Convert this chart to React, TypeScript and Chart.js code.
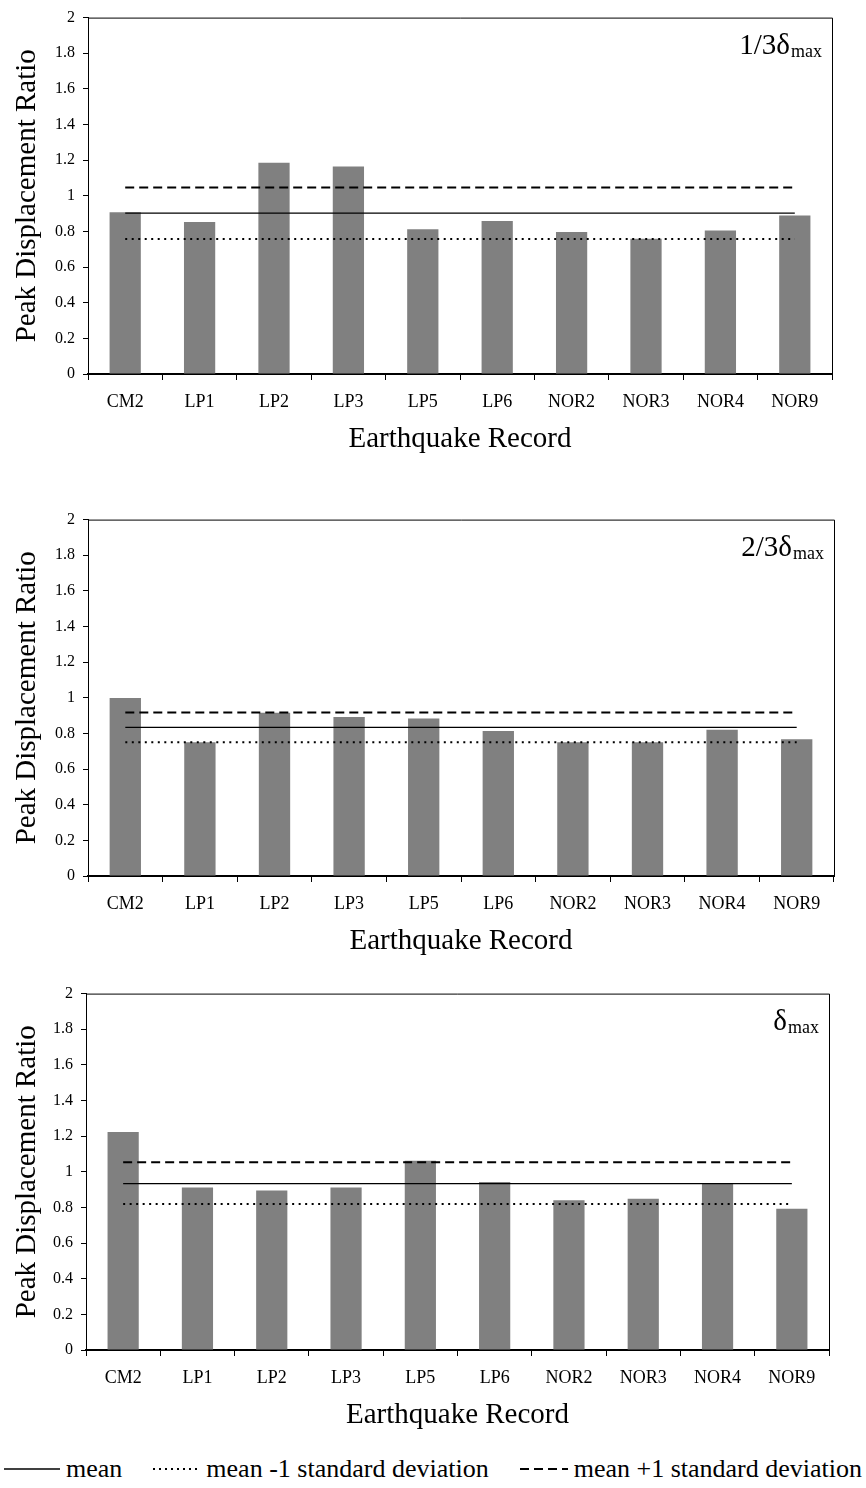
import React, { useEffect, useRef } from 'react';
import { Chart, registerables } from 'chart.js';

Chart.register(...registerables);

// Earthquake records on the horizontal axis
const records = ['CM2', 'LP1', 'LP2', 'LP3', 'LP5', 'LP6', 'NOR2', 'NOR3', 'NOR4', 'NOR9'];

// Peak displacement ratios per record, one array per displacement level
const ratioThird = [0.907, 0.853, 1.186, 1.164, 0.812, 0.858, 0.797, 0.759, 0.805, 0.89];
const ratioTwoThirds = [0.999, 0.751, 0.916, 0.892, 0.884, 0.814, 0.751, 0.751, 0.821, 0.768];
const ratioMax = [1.224, 0.912, 0.895, 0.912, 1.062, 0.943, 0.841, 0.849, 0.934, 0.793];

// Mean and mean ± 1 standard deviation levels per panel
const meanLevels = [0.903, 0.834, 0.934];
const upperLevels = [1.047, 0.918, 1.053];
const lowerLevels = [0.757, 0.751, 0.819];

const yTickLabels = ['0', '0.2', '0.4', '0.6', '0.8', '1', '1.2', '1.4', '1.6', '1.8', '2'];

const panelMain = ['1/3\u03b4', '2/3\u03b4', '\u03b4'];
const panelSub = ['max', 'max', 'max'];

const seriesList = [ratioThird, ratioTwoThirds, ratioMax];

const SERIF = '"Liberation Serif", "Times New Roman", serif';
const PANEL_W = 866;
const PANEL_H = 457;
const X_AXIS_H = 83;

// Top and right edges of the plot box
const framePlugin = {
  id: 'frame',
  afterDraw(chart: any) {
    const { ctx, chartArea } = chart;
    ctx.save();
    ctx.strokeStyle = '#000';
    ctx.lineWidth = 1;
    ctx.beginPath();
    ctx.moveTo(chartArea.left, chartArea.top + 0.5);
    ctx.lineTo(chartArea.right + 0.5, chartArea.top + 0.5);
    ctx.lineTo(chartArea.right + 0.5, chartArea.bottom);
    ctx.stroke();
    ctx.restore();
  },
};

// Panel caption in the upper-right corner, with a subscript
const captionPlugin = {
  id: 'caption',
  afterDraw(chart: any, _args: any, opts: any) {
    if (!opts || !opts.main) return;
    const { ctx, chartArea } = chart;
    ctx.save();
    ctx.fillStyle = '#000';
    ctx.textBaseline = 'alphabetic';
    ctx.textAlign = 'left';
    const mainFont = `29px ${SERIF}`;
    const subFont = `18px ${SERIF}`;
    ctx.font = mainFont;
    const wMain = ctx.measureText(opts.main).width;
    ctx.font = subFont;
    const wSub = ctx.measureText(opts.sub).width;
    const x0 = chartArea.right - 11 - wMain - wSub;
    const base = chartArea.top + 36;
    ctx.font = mainFont;
    ctx.fillText(opts.main, x0, base);
    ctx.font = subFont;
    ctx.fillText(opts.sub, x0 + wMain + 1, base + 3);
    ctx.restore();
  },
};

function levelLine(value: number, dash: number[], width: number) {
  return {
    type: 'line' as const,
    data: [
      { x: records[0], y: value },
      { x: records[records.length - 1], y: value },
    ],
    borderColor: '#000',
    borderWidth: width,
    borderDash: dash,
    pointRadius: 0,
    fill: false,
    order: 1,
  };
}

function Panel({ idx, top, left, right }: { idx: number; top: number; left: number; right: number }) {
  const ref = useRef<HTMLCanvasElement>(null);

  useEffect(() => {
    const canvas = ref.current;
    if (!canvas) return;
    const chart = new Chart(canvas, {
      type: 'bar',
      data: {
        labels: records,
        datasets: [
          {
            type: 'bar',
            data: seriesList[idx],
            backgroundColor: '#808080',
            borderWidth: 0,
            barPercentage: 0.42,
            categoryPercentage: 1,
            order: 2,
          } as any,
          levelLine(meanLevels[idx], [], 1.3),
          levelLine(upperLevels[idx], [9, 5], 2),
          levelLine(lowerLevels[idx], [2, 4.5], 2),
        ],
      },
      options: {
        responsive: false,
        animation: false,
        devicePixelRatio: 1,
        layout: { padding: { top: 14, right: PANEL_W - right, bottom: 0, left: 0 } },
        plugins: {
          legend: { display: false },
          tooltip: { enabled: false },
          caption: { main: panelMain[idx], sub: panelSub[idx] },
        } as any,
        scales: {
          x: {
            type: 'category',
            offset: true,
            grid: {
              display: true,
              offset: true,
              drawOnChartArea: false,
              drawTicks: true,
              tickLength: 6,
              color: '#000',
              lineWidth: 1,
            },
            border: { display: true, color: '#000', width: 2 },
            ticks: {
              color: '#000',
              font: { family: SERIF, size: 18 },
              padding: 11,
              maxRotation: 0,
              autoSkip: false,
            },
            title: {
              display: true,
              text: 'Earthquake Record',
              color: '#000',
              font: { family: SERIF, size: 29 },
              padding: { top: 0, bottom: 0 },
            },
            afterFit: (s: any) => {
              s.height = X_AXIS_H;
            },
          },
          y: {
            min: 0,
            max: 2,
            ticks: {
              stepSize: 0.2,
              color: '#000',
              font: { family: SERIF, size: 16 },
              padding: 8,
              callback: (_v: any, i: number) => yTickLabels[i],
            },
            grid: {
              display: true,
              drawOnChartArea: false,
              drawTicks: true,
              tickLength: 5,
              color: '#000',
            },
            border: { display: true, color: '#000', width: 1 },
            title: {
              display: true,
              text: 'Peak Displacement Ratio',
              color: '#000',
              font: { family: SERIF, size: 29 },
              padding: { top: 10, bottom: 0 },
            },
            afterFit: (s: any) => {
              s.width = left;
            },
          },
        },
      },
      plugins: [framePlugin, captionPlugin],
    } as any);
    return () => chart.destroy();
  }, [idx, left, right]);

  return (
    <canvas
      ref={ref}
      width={PANEL_W}
      height={PANEL_H}
      style={{ position: 'absolute', left: 0, top, width: PANEL_W, height: PANEL_H }}
    />
  );
}

function Sample({ dash, width }: { dash: string; width: number }) {
  return (
    <svg width={width} height={10} style={{ display: 'block', marginRight: 6 }}>
      <line
        x1={0}
        y1={5}
        x2={width}
        y2={5}
        stroke="#000"
        strokeWidth={dash === 'none' ? 1.3 : 2}
        strokeDasharray={dash === 'none' ? undefined : dash}
      />
    </svg>
  );
}

export default function App() {
  return (
    <div style={{ position: 'absolute', left: 0, top: 0, width: 866, height: 1488, background: '#fff', overflow: 'hidden' }}>
      <Panel idx={0} top={0} left={88} right={832} />
      <Panel idx={1} top={502} left={88} right={834} />
      <Panel idx={2} top={976} left={86} right={829} />
      <div
        style={{
          position: 'absolute',
          left: 4,
          top: 1452,
          width: 858,
          height: 34,
          display: 'flex',
          alignItems: 'center',
          justifyContent: 'space-between',
          fontFamily: SERIF,
          fontSize: 26,
          color: '#000',
          whiteSpace: 'nowrap',
        }}
      >
        <div style={{ display: 'flex', alignItems: 'center' }}>
          <Sample dash="none" width={56} />
          <span>mean</span>
        </div>
        <div style={{ display: 'flex', alignItems: 'center' }}>
          <Sample dash="2 4" width={47} />
          <span>mean -1 standard deviation</span>
        </div>
        <div style={{ display: 'flex', alignItems: 'center' }}>
          <Sample dash="9 5" width={48} />
          <span>mean +1 standard deviation</span>
        </div>
      </div>
    </div>
  );
}
